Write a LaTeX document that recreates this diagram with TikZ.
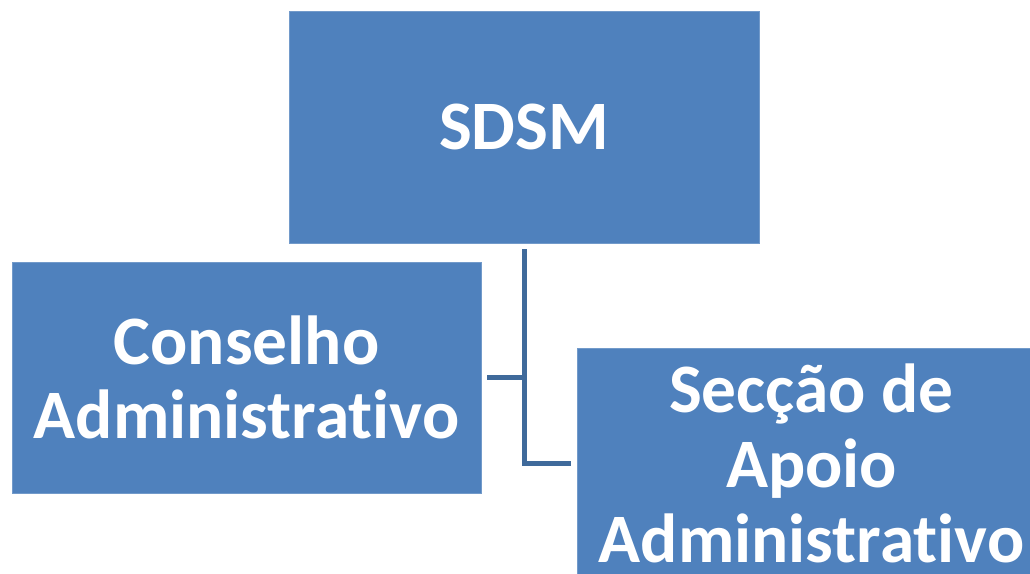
\documentclass[tikz,border=0pt]{standalone}
\usepackage{fontspec}
\setmainfont[Ligatures=NoCommon]{Carlito}
\usepackage{tikz}

\definecolor{boxblue}{HTML}{4F81BD}
\definecolor{linkblue}{HTML}{3F6A9B}

\begin{document}
\begin{tikzpicture}[x=0.02cm,y=-0.02cm,
  unit/.style={fill=boxblue, draw=boxblue!80!white, thin, text=white, align=center,
    inner sep=0pt, font=\bfseries\fontsize{39.5}{42.5}\selectfont},
  link/.style={draw=linkblue, line width=0.1cm}]
\useasboundingbox (0,0) rectangle (1030,574);

\node[unit, minimum width=9.4cm, minimum height=4.64cm] (sdsm) at (524,127) {SDSM};
\node[unit, minimum width=9.38cm, minimum height=4.62cm] (conselho) at (246.5,377.5) {Conselho\\Administrativo};
\node[unit, minimum width=9.38cm, minimum height=4.62cm] (seccao) at (811.5,463.5) {Secção de\\Apoio\\Administrativo};

\draw[link] ([yshift=-0.12cm]sdsm.south) |- ([xshift=-0.12cm]seccao.west);
\draw[link] ([xshift=0.12cm]conselho.east) -- (conselho.east -| sdsm.south);
\end{tikzpicture}
\end{document}
